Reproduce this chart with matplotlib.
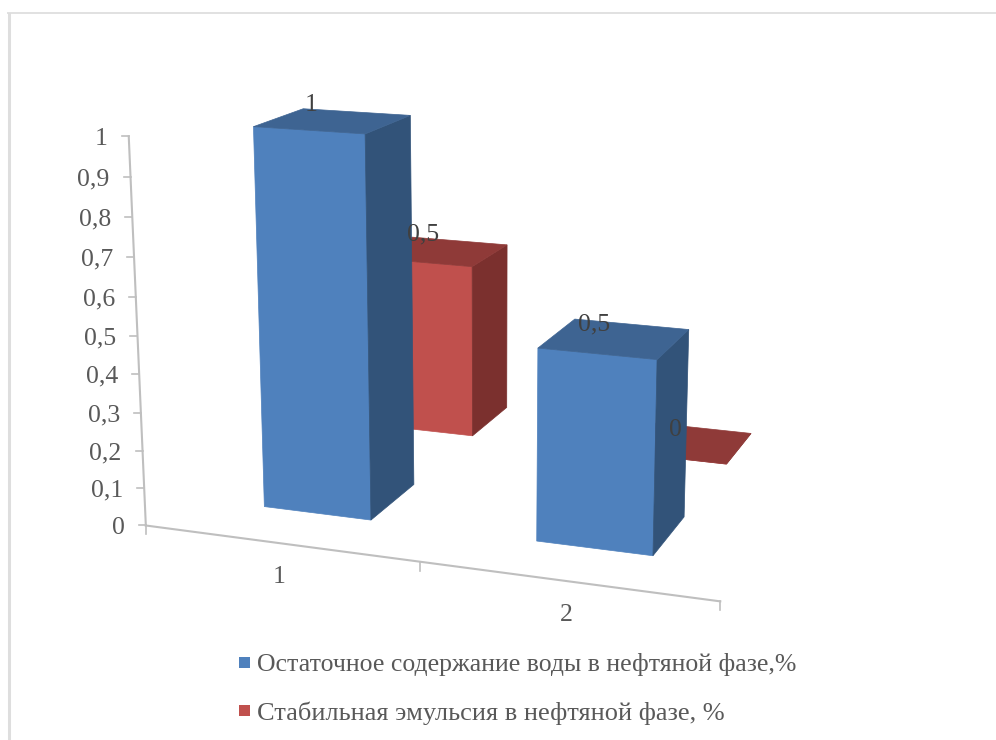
import numpy as np
import matplotlib
matplotlib.use("Agg")
import matplotlib.pyplot as plt
from matplotlib.patches import Polygon, Rectangle

categories = ["1", "2"]
water = [1, 0.5]
emulsion = [0.5, 0]
series_names = ["Остаточное содержание воды в нефтяной фазе,%",
                "Стабильная эмульсия в нефтяной фазе, %"]
y_ticks = [0, 0.1, 0.2, 0.3, 0.4, 0.5, 0.6, 0.7, 0.8, 0.9, 1]

# perspective camera: (category, depth, value) -> pixels
CAM = np.array([[256.2072, 160.9532, -23.18367, 145.8286],
                [12.03543, -30.92937, -395.6281, 525.4971],
                [-0.0430643, 0.1239344, -0.04737438, 1.0]])
# bar placement inside one category / series slot
BAR_X, BAR_W = 0.29516, 0.40161
BAR_D, BAR_H = 0.30850, 0.39459

TEXT = "#595959"
AXIS = "#BFBFBF"
BLUE = ("#4F81BD", "#325379", "#3E6492")   # front, side, top
RED = ("#C0504D", "#7B302E", "#8F3A38")


def project(x, d, z):
    v = CAM @ np.array([x, d, z, 1.0])
    return v[0] / v[2], v[1] / v[2]


def comma(v):
    return f"{v:g}".replace(".", ",")


def draw_bar(ax, cat, slot, value, colors):
    x0 = cat + BAR_X
    x1 = x0 + BAR_W
    d0 = slot + BAR_D
    d1 = d0 + BAR_H
    front = [(x0, d0, 0), (x1, d0, 0), (x1, d0, value), (x0, d0, value)]
    side = [(x1, d0, 0), (x1, d1, 0), (x1, d1, value), (x1, d0, value)]
    top = [(x0, d0, value), (x1, d0, value), (x1, d1, value), (x0, d1, value)]
    for face, col in zip((front, side, top), colors):
        pts = [project(*p) for p in face]
        ax.add_patch(Polygon(pts, closed=True, facecolor=col, edgecolor=col, linewidth=0.5))


fig = plt.figure(figsize=(9.96, 7.4), dpi=100)
ax = fig.add_axes([0, 0, 1, 1])
ax.set_xlim(0, 996)
ax.set_ylim(740, 0)
ax.axis("off")
plt.rcParams["font.family"] = "Liberation Serif"

# page frame
ax.plot([8.5, 8.5], [12.5, 740], color="#DEDEDE", lw=2.2, solid_capstyle="butt")
ax.plot([7, 996], [12.5, 12.5], color="#D9D9D9", lw=1.1, solid_capstyle="butt")

# value axis
base = project(0, 0, 0)
top = project(0, 0, 1)
ax.plot([base[0], top[0]], [base[1], top[1]], color=AXIS, lw=1.5)
for t in y_ticks:
    px, py = project(0, 0, t)
    ax.plot([px - 7, px], [py, py], color=AXIS, lw=1.2)
    ax.text(px - 21, py + 2.5, comma(t), ha="right", va="center", fontsize=18.5, color=TEXT)

# category axis
end = project(len(categories), 0, 0)
ax.plot([base[0], end[0]], [base[1], end[1]], color=AXIS, lw=1.5)
for i in range(len(categories) + 1):
    px, py = project(i, 0, 0)
    ax.plot([px, px], [py, py + 9], color=AXIS, lw=1.2)
for i, name in enumerate(categories):
    px, py = project(i + 0.5, 0, 0)
    ax.text(px - 0.5, py + 33.5, name, ha="center", va="center", fontsize=18.5, color=TEXT)

# back series first so the front bars cover it
for i in range(len(categories)):
    draw_bar(ax, i, 1, emulsion[i], RED)
    draw_bar(ax, i, 0, water[i], BLUE)

# value labels above each bar's top face, nudged off the edges
nudges = {(0, 0): (-22, -16), (0, 1): (-20, -14), (1, 0): (-18, -17), (1, 1): (-12, -13)}
for slot, vals in ((0, water), (1, emulsion)):
    for i, v in enumerate(vals):
        px, py = project(i + BAR_X + BAR_W / 2, slot + BAR_D + BAR_H / 2, v)
        dx, dy = nudges[(slot, i)]
        ax.text(px + dx, py + dy, comma(v), ha="center", va="center", fontsize=18.5, color="#404040")

# legend
for name, col, y, size in zip(series_names, (BLUE[0], RED[0]), (665, 713), (18.5, 19)):
    ax.add_patch(Rectangle((239, y - 8), 11, 11, facecolor=col, edgecolor="none"))
    ax.text(257, y, name, ha="left", va="center", fontsize=size, color=TEXT)

fig.savefig("out.png", dpi=100)
